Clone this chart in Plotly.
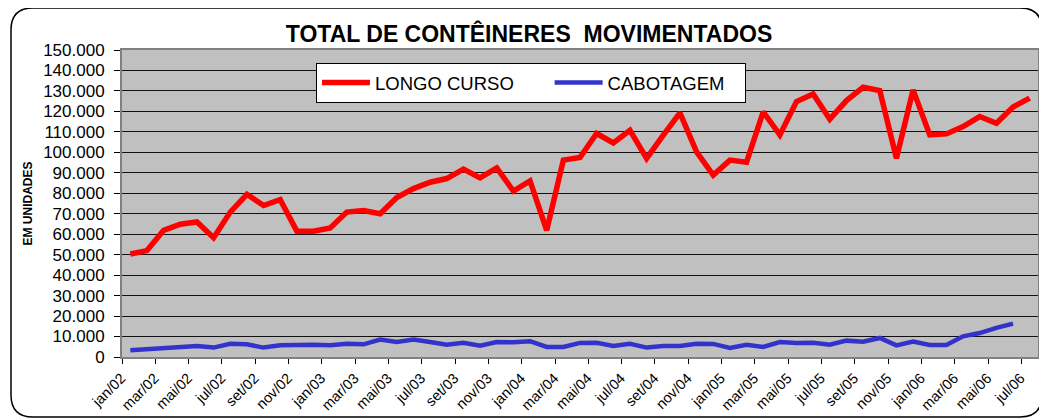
import plotly.graph_objects as go

# ---- data ----
month_abbr = ["jan", "fev", "mar", "abr", "mai", "jun", "jul", "ago", "set", "out", "nov", "dez"]
years = ["02", "03", "04", "05", "06"]
months = [f"{m}/{y}" for y in years for m in month_abbr][:55]  # jan/02 .. jul/06

longo_curso = [50300, 52000, 61900, 64900, 66000, 58300, 70800, 79500, 74000, 76900,
               61500, 61500, 63000, 70800, 71600, 70000, 77900, 82300, 85400, 87200,
               91800, 87500, 92400, 81100, 86000, 61900, 96200, 97500, 109200, 104600,
               110800, 97000, 108400, 119300, 100200, 88900, 96200, 95200, 119800, 108500,
               124800, 128500, 116200, 125300, 131800, 130200, 97100, 130500, 108500, 109000,
               112600, 117500, 114200, 122100, 126500]

cabotagem = [3300, 3800, 3900, 4400, 5400, 4600, 6500, 6200, 4600, 5700,
             6000, 6000, 5700, 6500, 6200, 8500, 7300, 8500, 7300, 6000,
             7000, 5500, 7300, 7200, 7700, 4900, 4900, 6900, 7000, 5400,
             6500, 4600, 5400, 5400, 6500, 6400, 4400, 6000, 4900, 7300,
             6900, 7000, 6000, 8000, 7500, 9300, 5700, 7500, 5900, 5900,
             10100, 11700, 14200, 16300]

y_tick_vals = [0, 10000, 20000, 30000, 40000, 50000, 60000, 70000, 80000, 90000,
               100000, 110000, 120000, 130000, 140000, 150000]
y_tick_text = ["0", "10.000", "20.000", "30.000", "40.000", "50.000", "60.000", "70.000",
               "80.000", "90.000", "100.000", "110.000", "120.000", "130.000", "140.000", "150.000"]

series_names = ["LONGO CURSO", "CABOTAGEM"]

x_idx = list(range(len(months)))
x_tick_vals = x_idx[::2]
x_tick_text = months[::2]

FONT = "Liberation Sans, Arial, sans-serif"
NB = "\u00a0"

# page body adds an 8px offset; size the figure so it fills the 1047x420 window
OFF = 8
W, H = 1047 - OFF, 420 - OFF
# target plot area in window pixels
PL, PR, PT, PB = 122, 1038, 50, 357
ml, mr, mt, mb = PL - OFF, 1047 - PR, PT - OFF, 420 - PB
pw, ph = PR - PL, PB - PT

def px_x(p):
    return (p - PL) / pw

def px_y(p):
    return (PB - p) / ph

fig = go.Figure()
fig.add_trace(go.Scatter(x=x_idx[:len(longo_curso)], y=longo_curso, mode="lines",
                         name=series_names[0] + NB * 6, line=dict(color="#FF0000", width=5.5)))
fig.add_trace(go.Scatter(x=x_idx[:len(cabotagem)], y=cabotagem, mode="lines",
                         name=series_names[1] + NB * 3, line=dict(color="#3333CC", width=4.5)))

L, R, T, B = px_x(11), px_x(1042), px_y(8), px_y(417)
rx, ry = 22 / pw, 22 / ph
path = (f"M {L+rx},{T} L {R-rx},{T} Q {R},{T} {R},{T-ry} L {R},{B+ry} Q {R},{B} {R-rx},{B} "
        f"L {L+rx},{B} Q {L},{B} {L},{B+ry} L {L},{T-ry} Q {L},{T} {L+rx},{T} Z")

fig.update_layout(
    width=W, height=H,
    margin=dict(l=ml, r=mr, t=mt, b=mb, pad=0, autoexpand=False),
    paper_bgcolor="white",
    plot_bgcolor="#C0C0C0",
    font=dict(family=FONT, color="black"),
    title=dict(text="<b>TOTAL DE CONTÊINERES  MOVIMENTADOS</b>",
               x=(529 - OFF) / W, xref="container", xanchor="center",
               y=1 - (34 - OFF) / H, yref="container", yanchor="middle",
               font=dict(size=23, family=FONT, color="black")),
    showlegend=True,
    legend=dict(orientation="h", x=px_x(316), y=px_y(63), xanchor="left", yanchor="top",
                bgcolor="white", bordercolor="black", borderwidth=1,
                font=dict(size=18.5, family=FONT, color="black"),
                itemwidth=48, tracegroupgap=0),
    shapes=[dict(type="path", path=path, xref="paper", yref="paper",
                 line=dict(color="black", width=1.5), fillcolor="rgba(0,0,0,0)", layer="below")],
)

fig.update_xaxes(
    range=[-0.5, len(months) - 0.5], automargin=False,
    tickmode="array", tickvals=x_tick_vals, ticktext=x_tick_text,
    tickangle=-45, ticks="", showgrid=False, zeroline=False,
    ticklabelshift=-9, ticklabelstandoff=5,
    tickfont=dict(size=14.5, family=FONT, color="black"),
    showline=True, linecolor="#808080", linewidth=2, mirror=True,
    minor=dict(ticks="outside", ticklen=5, tickcolor="black", tickwidth=1,
               tick0=-0.5, dtick=2, showgrid=False),
)

fig.update_yaxes(
    range=[0, 150000], automargin=False,
    tickmode="array", tickvals=y_tick_vals, ticktext=y_tick_text,
    ticks="outside", ticklen=6, tickcolor="black", tickwidth=1,
    ticklabelstandoff=6,
    tickfont=dict(size=17, family=FONT, color="black"),
    showgrid=True, gridcolor="#111111", gridwidth=1, zeroline=False,
    showline=True, linecolor="#808080", linewidth=2, mirror=True,
    title=dict(text="<b>EM UNIDADES</b>", font=dict(size=12, family=FONT, color="black"),
               standoff=8),
)

fig.write_html("out.html")
